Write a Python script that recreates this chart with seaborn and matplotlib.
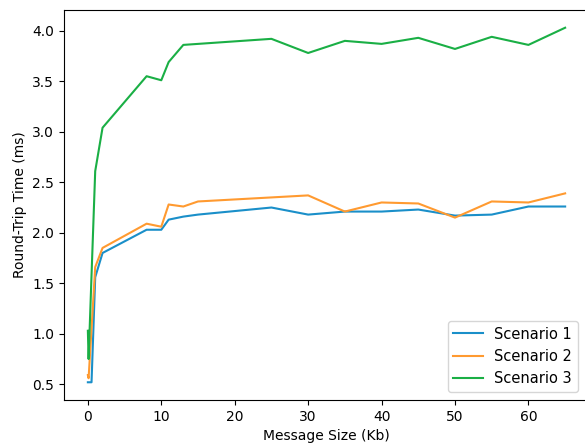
import matplotlib
matplotlib.use("Agg")
import matplotlib.pyplot as plt
import seaborn as sns
import pandas as pd

sizes = [0, 0.1, 0.5, 1, 2, 8, 10, 11, 13, 15, 25, 30, 35, 40, 45, 50, 55, 60, 65]
scenario1 = [0.52, 0.52, 0.52, 1.56, 1.80, 2.03, 2.03, 2.13, 2.16, 2.18, 2.25,
             2.18, 2.21, 2.21, 2.23, 2.17, 2.18, 2.26, 2.26]
scenario2 = [0.59, 0.56, 1.05, 1.66, 1.85, 2.09, 2.06, 2.28, 2.26, 2.31, 2.35,
             2.37, 2.21, 2.30, 2.29, 2.15, 2.31, 2.30, 2.39]
scenario3 = [1.03, 0.75, 1.58, 2.61, 3.04, 3.55, 3.51, 3.69, 3.86, 3.87, 3.92,
             3.78, 3.90, 3.87, 3.93, 3.82, 3.94, 3.86, 4.03]
names = ["Scenario 1", "Scenario 2", "Scenario 3"]
colors = ["#1a8fc9", "#ff9a30", "#1aaf45"]

rows = []
for name, vals in zip(names, [scenario1, scenario2, scenario3]):
    for x, y in zip(sizes, vals):
        rows.append({"size": x, "rtt": y, "scenario": name})
df = pd.DataFrame(rows)

fig = plt.figure(figsize=(5.85, 4.46), dpi=100)
ax = fig.add_axes([64 / 585, 1 - 400 / 446, (589 - 64) / 585, (400 - 10) / 446])
sns.lineplot(data=df, x="size", y="rtt", hue="scenario", palette=colors,
             ax=ax, linewidth=1.5, estimator=None, sort=True)
ax.set_xlabel("Message Size (Kb)")
ax.set_ylabel("Round-Trip Time (ms)")
ax.set_xticks([0, 10, 20, 30, 40, 50, 60])
ax.legend(loc="lower right", bbox_to_anchor=(578 / 585, 1 - 392 / 446),
          bbox_transform=fig.transFigure, borderaxespad=0,
          fontsize=10.5, labelspacing=0.5)
fig.savefig("out.png", dpi=100)
